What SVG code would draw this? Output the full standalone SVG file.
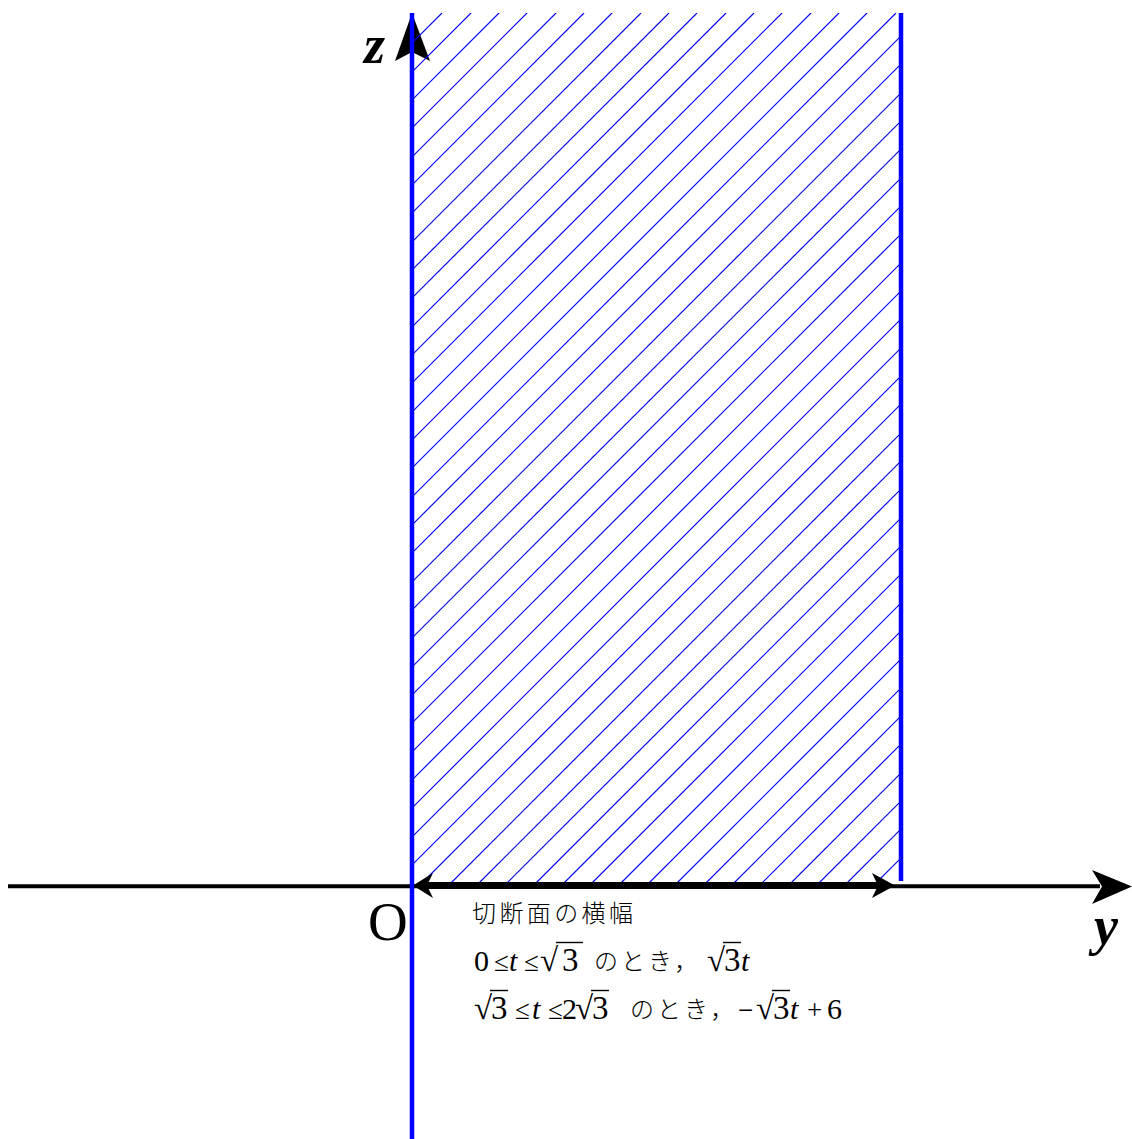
<svg xmlns="http://www.w3.org/2000/svg" width="1132" height="1139" viewBox="0 0 1132 1139">
<style>
.m{font-family:"Liberation Serif","Times New Roman",serif;font-size:30px;fill:#000}
.b{font-family:"Liberation Serif","Times New Roman",serif;font-size:33px;fill:#000}
.o{font-family:"Liberation Serif","Times New Roman",serif;font-size:27px;fill:#000}
.r{font-family:"Liberation Serif","Times New Roman",serif;font-size:33px;fill:#000}
.i{font-style:italic}
.j{font-family:"Noto Sans CJK JP",sans-serif;font-size:24px;fill:#000;font-weight:300}
.lab{font-family:"Liberation Serif","Times New Roman",serif;font-weight:bold;font-style:italic;font-size:54px;fill:#000}
.hatch{stroke:#0000ff;stroke-width:1.2;fill:none}
.blue{stroke:#0000ff;stroke-width:4.5}
.bar{stroke:#000;stroke-width:1.4}
</style>
<defs>
<clipPath id="hc"><rect x="411" y="13" width="490" height="871"/></clipPath>
</defs>
<rect width="1132" height="1139" fill="#fff"/>
<g id="connectors">
<line x1="8" y1="886.3" x2="1100" y2="886.3" stroke="#000" stroke-width="4"/>
<polygon points="1132,886.5 1092,870 1102,886.5 1092,904" fill="#000"/>
<polygon points="412,13 430,61 412,52 395,61" fill="#000"/>
</g>
<g id="region">
<path class="hatch" clip-path="url(#hc)" d="M-457 884l871-871M-429 884l871-871M-400 884l871-871M-372 884l871-871M-344 884l871-871M-315 884l871-871M-287 884l871-871M-259 884l871-871M-230 884l871-871M-202 884l871-871M-174 884l871-871M-145 884l871-871M-117 884l871-871M-89 884l871-871M-60 884l871-871M-32 884l871-871M-4 884l871-871M25 884l871-871M53 884l871-871M81 884l871-871M110 884l871-871M138 884l871-871M166 884l871-871M195 884l871-871M223 884l871-871M251 884l871-871M280 884l871-871M308 884l871-871M336 884l871-871M365 884l871-871M393 884l871-871M421 884l871-871M450 884l871-871M478 884l871-871M506 884l871-871M535 884l871-871M563 884l871-871M591 884l871-871M620 884l871-871M648 884l871-871M676 884l871-871M705 884l871-871M733 884l871-871M761 884l871-871M790 884l871-871M818 884l871-871M846 884l871-871M875 884l871-871"/>
<line class="blue" x1="901" y1="13" x2="901" y2="881"/>
</g>
<g id="width-arrow">
<line x1="425" y1="885.5" x2="882" y2="885.5" stroke="#000" stroke-width="7"/>
<polygon points="413,885.5 433,873 427,885.5 433,898" fill="#000"/>
<polygon points="895,885.5 872,873 878,885.5 872,898" fill="#000"/>
</g>
<g id="z-axis">
<line class="blue" x1="412" y1="13" x2="412" y2="1139"/>
</g>
<g id="labels">
<text class="lab" x="364" y="63">z</text>
<text class="lab" x="1094" y="944">y</text>
<text x="368" y="940" font-family="Liberation Serif,serif" font-size="55">O</text>
</g>
<g id="note">
<text class="j" x="472" y="922" letter-spacing="3.4">切断面の横幅</text>
<text class="m" x="474" y="971">0</text>
<text class="o" x="494" y="971">≤</text>
<text class="m i" x="509" y="971">t</text>
<text class="o" x="524" y="971">≤</text>
<text class="r" x="540" y="971">√</text>
<line class="bar" x1="556" y1="942.5" x2="583" y2="942.5"/>
<text class="b" x="562" y="971">3</text>
<text class="j" x="594" y="970" letter-spacing="3">のとき，</text>
<text class="r" x="707" y="971">√</text>
<line class="bar" x1="723" y1="942.5" x2="741" y2="942.5"/>
<text class="b" x="724" y="971">3</text>
<text class="m i" x="741" y="971">t</text>
<text class="r" x="474" y="1019">√</text>
<line class="bar" x1="490" y1="990.5" x2="508" y2="990.5"/>
<text class="b" x="491" y="1019">3</text>
<text class="o" x="515" y="1019">≤</text>
<text class="m i" x="532" y="1019">t</text>
<text class="o" x="548" y="1019">≤</text>
<text class="m" x="562" y="1019">2</text>
<text class="r" x="575" y="1019">√</text>
<line class="bar" x1="591" y1="990.5" x2="609" y2="990.5"/>
<text class="b" x="592" y="1019">3</text>
<text class="j" x="630" y="1018" letter-spacing="3">のとき，</text>
<text class="o" x="738" y="1019">−</text>
<text class="r" x="756" y="1019">√</text>
<line class="bar" x1="772" y1="990.5" x2="790" y2="990.5"/>
<text class="b" x="773" y="1019">3</text>
<text class="m i" x="790" y="1019">t</text>
<text class="o" x="807" y="1019">+</text>
<text class="m" x="827" y="1019">6</text>
</g>
</svg>
